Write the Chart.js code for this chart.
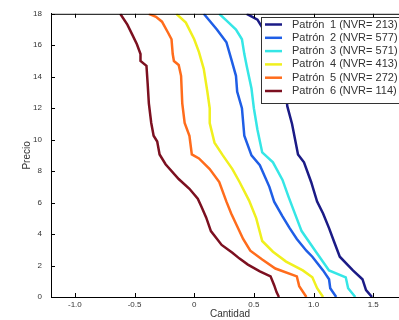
<!DOCTYPE html>
<html>
<head>
<meta charset="utf-8">
<script src="https://cdn.jsdelivr.net/npm/chart.js@4/dist/chart.umd.min.js"></script>
<style>
    html, body { margin: 0; padding: 0; background: #fff; overflow: hidden; }
    #wrap { width: 399px; height: 320px; overflow: hidden; }
    canvas { display: block; }
</style>
</head>
<body>
<div id="wrap"><canvas id="curvas" width="420" height="320"></canvas></div>
<script>
const xTicks = [-1, -0.5, 0, 0.5, 1, 1.5];
const yTicks = [0, 2, 4, 6, 8, 10, 12, 14, 16, 18];
const nvr = [213, 577, 571, 413, 272, 114];
const colores = ['#1b1b86', '#1f5ee6', '#35e6e6', '#f0f01e', '#ff6c1c', '#7c1020'];

// Patrón 1
const precio1   = [18, 17.63, 16.38, 14.5, 12.94, 12.13, 11, 9.06, 8.56, 7.31, 6.06, 5.31, 4.38, 3.56, 2.56, 1.69, 1.13, 0.44, 0];
const cantidad1 = [0.44, 0.53, 0.63, 0.71, 0.77, 0.78, 0.82, 0.87, 0.92, 0.98, 1.03, 1.08, 1.13, 1.17, 1.22, 1.33, 1.41, 1.44, 1.49];
// Patrón 2
const precio2   = [18, 17, 16.19, 15.13, 14.06, 13.06, 12, 10.25, 9, 8.38, 7, 6.06, 5.13, 4.38, 3.69, 2.94, 2.56, 1.69, 1.13, 0.56, 0];
const cantidad2 = [0.08, 0.19, 0.27, 0.31, 0.35, 0.36, 0.4, 0.42, 0.48, 0.55, 0.63, 0.67, 0.74, 0.8, 0.86, 0.94, 0.99, 1.08, 1.13, 1.14, 1.19];
// Patrón 3
const precio3   = [18, 17.5, 17, 16.38, 15.44, 14.69, 13.25, 12, 10.63, 9.19, 8.56, 7.44, 6.38, 5.38, 4.19, 2.88, 1.69, 1.25, 0.56, 0];
const cantidad3 = [0.21, 0.28, 0.35, 0.4, 0.42, 0.44, 0.48, 0.5, 0.53, 0.57, 0.66, 0.74, 0.79, 0.84, 0.9, 1.02, 1.13, 1.27, 1.29, 1.35];
// Patrón 4
const precio4   = [18, 17.44, 16.38, 15.56, 14.5, 13.06, 12, 11.06, 9.81, 9, 8.13, 7.31, 6.13, 5, 3.56, 2.88, 2.25, 1.69, 1.25, 0.56, 0];
const cantidad4 = [-0.15, -0.07, 0, 0.04, 0.08, 0.11, 0.13, 0.13, 0.17, 0.24, 0.32, 0.38, 0.46, 0.52, 0.57, 0.66, 0.77, 0.91, 0.99, 1.03, 1.08];
// Patrón 5
const precio5   = [18, 17.81, 17.5, 16.81, 16.38, 15.44, 15, 14.75, 14.06, 12.31, 11.06, 10.25, 9.06, 8.81, 8.13, 7.31, 6.06, 5.31, 4.5, 3.69, 2.94, 2.38, 1.81, 1.31, 0.69, 0];
const cantidad5 = [-0.38, -0.32, -0.27, -0.22, -0.19, -0.18, -0.17, -0.13, -0.11, -0.1, -0.08, -0.04, -0.02, 0.04, 0.13, 0.21, 0.27, 0.31, 0.36, 0.41, 0.47, 0.57, 0.68, 0.86, 0.88, 0.94];
// Patrón 6
const precio6   = [18, 17.31, 16.69, 16.06, 15.44, 15, 14.69, 13.56, 12.31, 11.06, 10.25, 9.88, 9.06, 8.44, 7.5, 6.88, 6.25, 5.75, 5.06, 4.19, 3.31, 2.81, 2.44, 2.06, 1.63, 1.31, 0.75, 0.31, 0];
const cantidad6 = [-0.62, -0.56, -0.52, -0.48, -0.45, -0.45, -0.4, -0.39, -0.38, -0.36, -0.34, -0.31, -0.29, -0.24, -0.13, -0.04, 0.03, 0.06, 0.1, 0.14, 0.23, 0.32, 0.38, 0.45, 0.55, 0.64, 0.67, 0.69, 0.71];

const precios = [precio1, precio2, precio3, precio4, precio5, precio6];
const cantidades = [cantidad1, cantidad2, cantidad3, cantidad4, cantidad5, cantidad6];

const fuente = '"Liberation Sans", Arial, sans-serif';

const datasets = precios.map((precio, i) => ({
    label: `Patrón ${i + 1} (NVR= ${nvr[i]})`,
    data: precio.map((p, j) => ({ x: cantidades[i][j], y: p })),
    showLine: true,
    borderColor: colores[i],
    backgroundColor: colores[i],
    borderWidth: 2.5,
    pointRadius: 0,
    tension: 0
}));

// marcas hacia adentro, borde superior y leyenda estilo MATLAB
const ejesMatlab = {
    id: 'ejesMatlab',
    afterDraw(chart) {
        const { ctx, chartArea: a, scales: { x, y } } = chart;
        ctx.save();
        ctx.strokeStyle = '#000';
        ctx.lineWidth = 1;
        ctx.beginPath();
        ctx.moveTo(a.left, a.top + 0.5);
        ctx.lineTo(a.right, a.top + 0.5);
        xTicks.forEach(v => {
            const px = Math.round(x.getPixelForValue(v)) + 0.5;
            ctx.moveTo(px, a.bottom);
            ctx.lineTo(px, a.bottom - 4);
            ctx.moveTo(px, a.top);
            ctx.lineTo(px, a.top + 4);
        });
        yTicks.forEach(v => {
            const py = Math.round(y.getPixelForValue(v)) + 0.5;
            ctx.moveTo(a.left, py);
            ctx.lineTo(a.left + 4, py);
            ctx.moveTo(a.right, py);
            ctx.lineTo(a.right - 4, py);
        });
        ctx.stroke();

        // leyenda
        const bx = 261.5, by = 17.5, bw = 160, bh = 86;
        ctx.fillStyle = '#fff';
        ctx.fillRect(bx, by, bw, bh);
        ctx.strokeStyle = '#333';
        ctx.strokeRect(bx, by, bw, bh);
        ctx.font = `11px ${fuente}`;
        ctx.textBaseline = 'middle';
        ctx.textAlign = 'left';
        nvr.forEach((n, i) => {
            const ry = 24.5 + i * 13.3;
            ctx.strokeStyle = colores[i];
            ctx.lineWidth = 2.5;
            ctx.beginPath();
            ctx.moveTo(265, ry);
            ctx.lineTo(282, ry);
            ctx.stroke();
            ctx.fillStyle = '#333';
            ctx.fillText('Patrón', 292, ry);
            ctx.fillText(`${i + 1} (NVR= ${n})`, 330, ry);
        });
        ctx.restore();
    }
};

new Chart(document.getElementById('curvas'), {
    type: 'scatter',
    data: { datasets },
    options: {
        responsive: false,
        devicePixelRatio: 1,
        animation: false,
        layout: { padding: { left: 0, top: 9, right: 11, bottom: 0 } },
        plugins: {
            legend: { display: false },
            tooltip: { enabled: false }
        },
        scales: {
            x: {
                type: 'linear',
                min: -1.2,
                max: 1.8,
                afterBuildTicks: s => { s.ticks = xTicks.map(v => ({ value: v })); },
                afterFit: s => { s.height = 23; },
                grid: { drawOnChartArea: false, drawTicks: false },
                border: { display: true, color: '#000', width: 1 },
                ticks: { color: '#333', font: { family: fuente, size: 8 }, padding: 3, maxRotation: 0 },
                title: { display: true, text: 'Cantidad', color: '#333', font: { family: fuente, size: 10 }, padding: { top: 0, bottom: 0 } }
            },
            y: {
                type: 'linear',
                min: 0,
                max: 18,
                afterBuildTicks: s => { s.ticks = yTicks.map(v => ({ value: v })); },
                afterFit: s => { s.width = 51; },
                grid: { drawOnChartArea: false, drawTicks: false },
                border: { display: true, color: '#000', width: 1 },
                ticks: { color: '#333', font: { family: fuente, size: 8 }, padding: 9 },
                title: { display: true, text: 'Precio', color: '#333', font: { family: fuente, size: 10 }, padding: { top: 21, bottom: 0 } }
            }
        }
    },
    plugins: [ejesMatlab]
});
</script>
</body>
</html>
